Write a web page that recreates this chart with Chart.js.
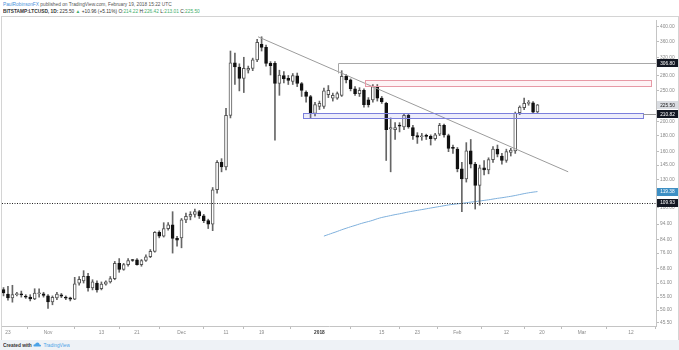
<!DOCTYPE html>
<html><head><meta charset="utf-8">
<script src="https://cdn.jsdelivr.net/npm/chart.js@4/dist/chart.umd.min.js"></script>
<style>
html,body{margin:0;padding:0;background:#fff;}
body{width:679px;height:350px;position:relative;overflow:hidden;font-family:"Liberation Sans",Arial,"DejaVu Sans",sans-serif;}
.t{position:absolute;white-space:nowrap;transform:scale(0.5);transform-origin:0 0;font-size:9.6px;line-height:12px;}
#l1{left:3px;top:1px;color:#555;}
#l2{left:3px;top:8px;color:#333;}
.g{color:#3fae6a;}
.bl{color:#4a90d9;}
#frame{position:absolute;left:1px;top:16px;width:676px;height:323px;border:1px solid #d4d4d4;}
#c{position:absolute;left:2px;top:17px;}
#ftr{position:absolute;left:0;top:340px;width:679px;height:10px;background:#eef2f6;}
#ftxt{left:3px;top:1.5px;color:#333;font-weight:bold;}
#ftxt span{color:#4aa3e8;font-weight:normal;}
</style></head>
<body>
<div id="l1" class="t"><span class="bl">PaulRobinsonFX</span> published on TradingView.com, February 19, 2018 15:22 UTC</div>
<div id="l2" class="t"><b>BITSTAMP:LTCUSD, 1D:</b> 225.50 <span class="g">▲</span> +10.96 (+5.11%) O:<span class="g">214.22</span> H:<span class="g">226.42</span> L:<span class="g">213.01</span> C:<span class="g">225.50</span></div>
<div id="frame"></div>
<canvas id="c" width="677" height="323"></canvas>
<div id="ftr"><div id="ftxt" class="t">Created with <svg width="18" height="10" viewBox="0 0 18 10" style="vertical-align:-1px"><path d="M3 9 Q0 9 1 6 Q2 4 4 5 Q5 1 9 1 Q13 1 13 5 Q17 5 16 8 Q15 9 13 9 Z" fill="#4aa3e8"/></svg> <span>TradingView</span></div></div>
<script>
// ---- data (day index 0 = 2017-10-22) ----
const xTickDays   = [1,10,22,30,40,50,58,71,85,93,102,113,121,130,141];
const xTickLabels = ['23','Nov','13','21','Dec','11','19','2018','15','23','Feb','12','20','Mar','12'];
const yTicks = [400,360,320,280,250,225,200,180,160,145,130,119,106,94,84,76,68,61,55,50,45.5];

const opens  = [58.1,56.3,54.7,56.0,56.4,55.4,55.0,54.3,56.4,56.4,55.5,53.1,54.7,55.9,55.0,54.7,54.2,60.9,62.0,64.1,
  58.9,61.0,58.5,60.5,61.5,63.0,70.5,67.4,69.8,72.2,72.3,69.8,72.0,74.0,77.0,88.5,86.0,91.0,93.5,84.7,
  85.0,97.0,99.5,101.0,103.0,100.0,96.5,94.0,121.0,148.0,143.0,209.0,307.0,298.0,274.0,291.0,295.0,314.0,352.0,344.0,
  306.0,306.0,264.0,280.0,274.0,268.0,279.0,264.0,248.0,240.0,212.0,223.0,223.0,243.0,237.0,237.0,242.0,278.0,271.0,254.0,
  245.0,251.0,234.0,234.0,258.0,237.0,228.0,189.0,188.0,193.5,192.0,209.0,191.0,180.0,178.5,179.5,179.0,176.0,182.0,194.0,
  180.0,164.5,163.0,141.0,131.0,161.0,146.0,125.0,142.0,140.0,151.0,163.0,155.0,150.0,159.0,161.0,213.0,221.0,228.0,229.0,
  214.22];
const highs  = [59.0,59.5,60.0,57.0,57.5,56.0,56.0,58.5,58.5,57.0,56.0,55.5,57.0,56.5,55.5,55.0,63.6,64.0,66.8,65.5,
  62.5,62.0,61.5,62.0,64.0,71.5,73.0,70.5,73.0,72.5,73.0,72.5,75.0,78.0,89.0,89.5,95.0,95.0,103.0,86.0,
  98.0,102.0,103.0,105.0,104.0,101.0,97.5,123.0,150.0,152.0,220.0,335.0,330.0,305.0,320.0,300.0,318.0,365.0,372.0,350.0,
  310.0,310.0,291.0,288.0,280.0,284.0,285.0,266.0,250.0,242.0,230.0,232.0,255.0,260.0,246.0,248.0,290.0,282.0,273.0,258.0,
  256.0,254.0,238.0,262.0,262.0,240.0,230.0,205.0,198.0,198.0,212.0,211.0,194.0,184.0,183.0,182.0,181.0,183.0,197.0,196.0,
  182.0,168.0,165.0,148.0,171.0,175.0,148.0,145.0,150.0,153.0,166.0,168.0,158.0,163.0,164.0,214.0,224.0,237.0,233.0,231.0,
  226.42];
const lows   = [55.5,53.8,53.0,55.5,55.0,54.5,53.5,54.0,55.0,55.0,50.6,52.0,54.0,54.8,54.0,53.5,54.0,60.0,61.0,57.5,
  58.0,57.0,58.0,60.0,61.0,62.5,66.0,67.0,69.0,71.5,69.5,69.0,71.5,73.5,76.5,85.0,85.5,90.0,76.0,80.0,
  79.0,95.0,97.0,99.0,98.0,95.0,91.0,89.6,118.0,138.0,140.0,205.0,262.0,250.0,247.0,285.0,290.0,310.0,335.0,300.0,
  281.0,174.0,242.0,265.0,262.0,262.0,258.0,240.0,230.0,205.0,208.0,218.0,220.0,238.0,232.0,235.0,240.0,265.0,250.0,242.0,
  240.0,222.0,222.0,230.0,232.0,228.0,150.0,138.0,175.0,185.0,188.0,190.0,175.0,170.0,174.0,175.0,168.0,174.0,180.0,178.0,
  160.0,158.0,138.0,103.0,128.0,142.0,105.0,108.0,135.0,136.0,148.0,154.0,146.0,148.0,155.0,158.0,210.0,218.0,225.0,212.0,
  213.01];
const closes = [56.7,54.7,56.0,56.5,55.9,55.0,54.3,56.7,56.5,55.7,53.1,54.9,56.3,55.4,54.6,54.2,60.7,62.7,64.1,58.9,
  61.5,58.0,60.5,61.5,63.0,70.5,67.4,69.8,72.0,72.0,69.8,72.0,74.0,77.0,88.5,86.0,91.0,93.5,84.7,83.5,
  97.0,99.5,101.0,103.0,99.8,96.5,94.0,121.0,148.0,143.0,209.0,307.0,298.0,274.0,295.0,295.0,314.0,357.0,344.0,306.0,
  301.0,264.0,281.0,273.0,270.0,280.0,264.0,251.0,240.0,212.0,226.0,228.0,250.0,251.0,242.0,245.0,278.0,271.0,254.0,245.0,
  251.0,226.0,226.0,258.0,237.0,231.0,188.0,191.0,191.0,193.0,209.0,192.0,180.0,178.0,179.0,179.0,176.0,181.0,194.0,181.0,
  164.0,164.0,141.0,131.0,161.0,146.0,125.0,142.0,140.0,151.0,163.0,157.0,150.0,160.0,162.0,212.0,222.0,228.0,229.0,214.0,
  225.50];

const maStartDay = 72;
const ma200 = [86.1,87.1,88.1,89.1,90.2,91.2,92.2,93.1,94.1,95.0,95.8,96.7,97.8,98.7,
  99.4,100.1,100.8,101.4,102.1,102.8,103.4,104.0,104.6,105.2,105.8,106.4,107.0,107.6,108.2,108.7,109.1,109.5,
  110.0,110.5,110.9,111.4,111.9,112.4,113.0,113.6,114.1,114.7,115.3,116.0,116.8,117.6,118.3,118.9,119.38];

const trendDays   = [57.2, 126.9];
const trendValues = [372, 138];
const resistanceDay = 75.2, resistanceValue = 306.80, resistanceDrop = 284;
const redZone  = [81.2, 145.5, 258.4, 270];   // fromDay, toDay, low, high
const blueZone = [67.3, 143.7, 205, 212.4];
const supportValue = 210.82;
const dottedValue = 109.93;
const tagValues = [306.80, 225.50, 210.82, 119.38, 109.93];

// ---- build ----
const FONT = '"Liberation Sans", Arial, sans-serif';
const isUp = opens.map((o,i)=>closes[i]>=o);
const wickData = opens.map((o,i)=>({x:i, y:[lows[i], highs[i]]}));
const bodyData = opens.map((o,i)=>({x:i, y:[Math.min(o,closes[i]), Math.max(o,closes[i])]}));
const maData = ma200.map((v,i)=>({x:maStartDay+i, y:v}));
const trendData = trendDays.map((d,i)=>({x:d, y:trendValues[i]}));

const tagStyle = {
  '306.8':['#131722','#fff'], '225.5':['#d9dce1','#222'], '210.82':['#131722','#fff'],
  '119.38':['#3d8fc4','#fff'], '109.93':['#131722','#fff']
};

const annot = {
  id:'annot',
  afterDatasetsDraw(chart){
    const {ctx, scales:{x,y}, chartArea:a} = chart;
    ctx.save();
    ctx.beginPath(); ctx.rect(a.left,a.top,a.right-a.left,a.bottom-a.top); ctx.clip();
    // blue zone
    let x1=x.getPixelForValue(blueZone[0]), x2=x.getPixelForValue(blueZone[1]);
    let y1=y.getPixelForValue(blueZone[3]), y2=y.getPixelForValue(blueZone[2]);
    ctx.fillStyle='rgba(110,110,225,0.13)'; ctx.fillRect(x1,y1,x2-x1,y2-y1);
    ctx.strokeStyle='#7b7fdc'; ctx.lineWidth=1; ctx.strokeRect(Math.round(x1)+0.5,Math.round(y1)+0.5,Math.round(x2-x1),Math.round(y2-y1));
    // support line continuation
    const ys=Math.round(y.getPixelForValue(supportValue))+0.5;
    ctx.strokeStyle='#9a9a9a'; ctx.beginPath(); ctx.moveTo(x2,ys); ctx.lineTo(a.right,ys); ctx.stroke();
    // red zone
    x1=x.getPixelForValue(redZone[0]); x2=x.getPixelForValue(redZone[1]);
    y1=y.getPixelForValue(redZone[3]); y2=y.getPixelForValue(redZone[2]);
    ctx.fillStyle='rgba(240,120,140,0.08)'; ctx.fillRect(x1,y1,x2-x1,y2-y1);
    ctx.strokeStyle='#e79aa6'; ctx.strokeRect(Math.round(x1)+0.5,Math.round(y1)+0.5,Math.round(x2-x1),Math.round(y2-y1));
    // resistance line
    const xr=Math.round(x.getPixelForValue(resistanceDay))+0.5, yr=Math.round(y.getPixelForValue(resistanceValue))+0.5;
    ctx.strokeStyle='#a8a8a8'; ctx.beginPath();
    ctx.moveTo(xr, y.getPixelForValue(resistanceDrop)); ctx.lineTo(xr,yr); ctx.lineTo(a.right,yr); ctx.stroke();
    // dotted
    const yd=Math.round(y.getPixelForValue(dottedValue))+0.5;
    ctx.strokeStyle='#222'; ctx.setLineDash([1,1.5]); ctx.beginPath(); ctx.moveTo(a.left,yd); ctx.lineTo(a.right,yd); ctx.stroke();
    ctx.restore();
  },
  afterDraw(chart){
    const {ctx, scales:{y}, chartArea:a} = chart;
    ctx.save();
    ctx.font = '4.8px '+FONT; ctx.textAlign='center'; ctx.textBaseline='middle';
    tagValues.forEach(v=>{
      const st = tagStyle[String(v)];
      const yy = y.getPixelForValue(v);
      ctx.fillStyle = st[0]; ctx.fillRect(a.right+1, Math.round(yy)-4, 21, 8);
      ctx.fillStyle = st[1]; ctx.fillText(v.toFixed(2), a.right+11.5, yy+0.3);
    });
    ctx.restore();
  }
};

new Chart(document.getElementById('c'), {
  type:'bar',
  data:{datasets:[
    {type:'line', data:trendData, borderColor:'#9c9c9c', borderWidth:1, pointRadius:0, order:-1},
    {data:bodyData, grouped:false, barThickness:3, minBarLength:1, borderSkipped:false, borderWidth:1,
     backgroundColor:isUp.map(u=>u?'#ffffff':'#111111'), borderColor:isUp.map(u=>u?'#555555':'#111111'), order:0},
    {data:wickData, grouped:false, barThickness:1, backgroundColor:'#666666', order:1},
    {type:'line', data:maData, borderColor:'#7fb0dc', borderWidth:1, pointRadius:0, tension:0.3, order:2}
  ]},
  options:{
    responsive:false, animation:false, devicePixelRatio:1,
    layout:{padding:{left:0,right:0,top:0,bottom:0}},
    plugins:{legend:{display:false}, tooltip:{enabled:false}},
    scales:{
      x:{type:'linear', min:-0.34, max:146.63, offset:false,
        afterBuildTicks:s=>{ s.ticks = xTickDays.map(v=>({value:v})); },
        afterFit:s=>{ s.height = 14; },
        grid:{drawOnChartArea:false, tickLength:3, color:'#bdbdbd'},
        border:{color:'#c4c4c4'},
        ticks:{autoSkip:false, maxRotation:0, minRotation:0, padding:1,
          callback:v=>xTickLabels[xTickDays.indexOf(v)],
          color:c=>(c.tick && c.tick.value===71)?'#333':'#8a8a8a',
          font:c=>({size:4.8, family:FONT, weight:(c.tick && c.tick.value===71)?'bold':'normal'})}
      },
      y:{type:'logarithmic', position:'right', min:44.5, max:418,
        afterBuildTicks:s=>{ s.ticks = yTicks.map(v=>({value:v})); },
        afterFit:s=>{ s.width = 23; },
        grid:{drawOnChartArea:false, tickLength:3, color:'#bdbdbd'},
        border:{color:'#c4c4c4'},
        ticks:{autoSkip:false, padding:1, color:'#8a8a8a', font:{size:4.8, family:FONT},
          callback:v=>Number(v).toFixed(2)}
      }
    }
  },
  plugins:[annot]
});
</script>
</body></html>
